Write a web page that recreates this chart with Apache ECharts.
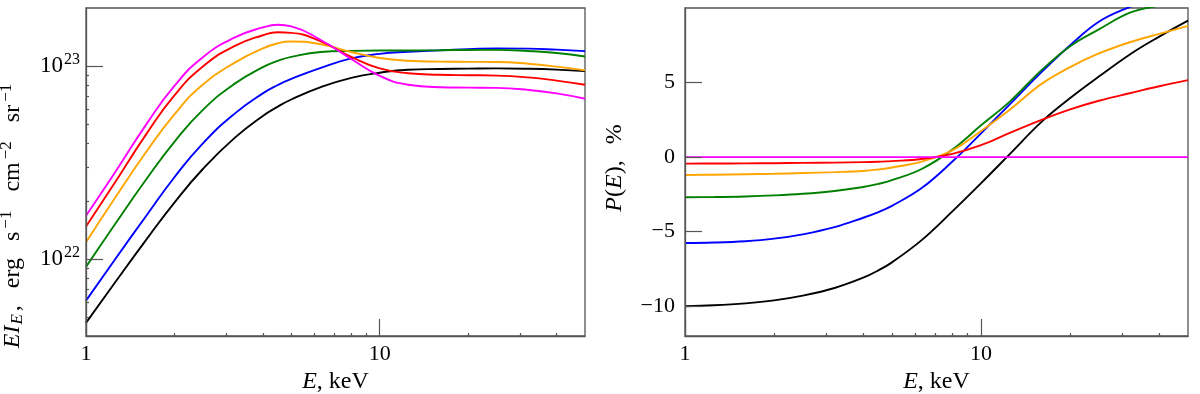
<!DOCTYPE html>
<html>
<head>
<meta charset="utf-8">
<script src="https://cdn.jsdelivr.net/npm/echarts@6/dist/echarts.min.js"></script>
<style>
  html, body { margin: 0; padding: 0; background: #fff; }
  #chart { width: 1200px; height: 394px; }
</style>
</head>
<body>
<div id="chart"></div>
<script>
// photon energy, keV
const energy = [1, 1.25, 1.6, 2, 2.5, 3.2, 4, 4.5, 5, 6.3, 8, 10, 12.5, 16, 20, 25, 32, 40, 50];

// left panel: E I_E, erg s^-1 cm^-2 sr^-1
const intensityBlack = [4.68e21, 7.5e21, 1.256e22, 1.965e22, 2.932e22, 4.236e22, 5.519e22, 6.166e22, 6.716e22, 7.786e22, 8.69e22, 9.245e22, 9.58e22, 9.66e22, 9.7e22, 9.73e22, 9.69e22, 9.59e22, 9.42e22];
const intensityBlue = [6.1e21, 9.88e21, 1.669e22, 2.656e22, 3.982e22, 5.658e22, 7.224e22, 7.985e22, 8.587e22, 9.79e22, 1.096e23, 1.157e23, 1.186e23, 1.207e23, 1.223e23, 1.235e23, 1.232e23, 1.217e23, 1.196e23];
const intensityGreen = [9.12e21, 1.503e22, 2.578e22, 4.055e22, 5.934e22, 8.09e22, 9.87e22, 1.065e23, 1.117e23, 1.183e23, 1.2e23, 1.204e23, 1.204e23, 1.209e23, 1.213e23, 1.214e23, 1.198e23, 1.17e23, 1.122e23];
const intensityOrange = [1.225e22, 2.056e22, 3.577e22, 5.624e22, 8.04e22, 1.039e23, 1.235e23, 1.314e23, 1.342e23, 1.298e23, 1.184e23, 1.102e23, 1.066e23, 1.055e23, 1.052e23, 1.05e23, 1.029e23, 9.94e22, 9.5e22];
const intensityRed = [1.476e22, 2.473e22, 4.417e22, 7.053e22, 9.96e22, 1.268e23, 1.445e23, 1.497e23, 1.487e23, 1.342e23, 1.116e23, 9.73e22, 9.19e22, 9.026e22, 8.973e22, 8.932e22, 8.74e22, 8.414e22, 8.01e22];
const intensityMagenta = [1.679e22, 2.785e22, 4.963e22, 7.899e22, 1.113e23, 1.404e23, 1.586e23, 1.637e23, 1.606e23, 1.366e23, 1.089e23, 8.9e22, 8.01e22, 7.777e22, 7.741e22, 7.713e22, 7.53e22, 7.224e22, 6.78e22];

// right panel: P(E), %
const polBlack = [-10.0, -9.94, -9.81, -9.61, -9.29, -8.78, -8.09, -7.60, -7.06, -5.57, -3.64, -1.75, 0.20, 2.36, 3.96, 5.40, 6.92, 8.08, 9.15];
const polBlue = [-5.76, -5.73, -5.64, -5.47, -5.18, -4.70, -4.07, -3.69, -3.27, -2.08, -0.30, 1.59, 3.54, 5.70, 7.50, 9.08, 10.09, 10.80, 11.38];
const polGreen = [-2.69, -2.68, -2.64, -2.57, -2.46, -2.27, -2.01, -1.80, -1.55, -0.80, 0.50, 2.13, 3.72, 5.83, 7.44, 8.57, 9.70, 10.17, 10.6];
const polOrange = [-1.20, -1.18, -1.15, -1.12, -1.07, -1.01, -0.93, -0.83, -0.70, -0.30, 0.45, 1.75, 3.18, 4.91, 6.04, 6.95, 7.72, 8.26, 8.80];
const polRed = [-0.44, -0.43, -0.42, -0.41, -0.39, -0.37, -0.34, -0.31, -0.27, -0.13, 0.22, 0.80, 1.62, 2.50, 3.20, 3.78, 4.30, 4.75, 5.16];
const polMagenta = [0, 0, 0, 0, 0, 0, 0, 0, 0, 0, 0, 0, 0, 0, 0, 0, 0, 0, 0];

// ticks
const xMajor = [1, 10];
const xMinor = [2, 3, 4, 5, 6, 7, 8, 9, 20, 30, 40];
const yLogMajor = [1e22, 1e23];
const yLogMinor = [5e21, 6e21, 7e21, 8e21, 9e21, 2e22, 3e22, 4e22, 5e22, 6e22, 7e22, 8e22, 9e22];
const yPolTicks = [-10, -5, 0, 5];

const colors = ['#000000', '#0000ff', '#008000', '#ffa500', '#ff0000', '#ff00ff'];
const intensity = [intensityBlack, intensityBlue, intensityGreen, intensityOrange, intensityRed, intensityMagenta];
const polarization = [polBlack, polBlue, polGreen, polOrange, polRed, polMagenta];

const FONT = 'Liberation Serif';
const AXIS_COLOR = '#555';

// tick labels
const tickRich = {
  n: { fontFamily: FONT, fontSize: 23, color: '#000' },
  sp: { fontFamily: FONT, fontSize: 16, color: '#000', padding: [0, 0, 12, 1] }
};
// axis titles
const nameRich = {
  n: { fontFamily: FONT, fontSize: 24, color: '#000' },
  w: { fontFamily: FONT, fontSize: 24, color: '#000', padding: [0, 0, 0, 17] },
  p: { fontFamily: FONT, fontSize: 24, color: '#000', padding: [0, 0, 0, 16] },
  i: { fontFamily: FONT, fontSize: 24, fontStyle: 'italic', color: '#000' },
  sp: { fontFamily: FONT, fontSize: 17, color: '#000', padding: [0, 2, 13, 3] },
  sb: { fontFamily: FONT, fontSize: 17, fontStyle: 'italic', color: '#000', padding: [10, 3, 0, 1] }
};

function pairs(ys) {
  return energy.map((e, k) => [e, ys[k]]);
}

function xAxes(grid) {
  return [
    {
      type: 'log', gridIndex: grid, min: 1, max: 50, position: 'bottom', z: 5,
      axisLine: { show: true, onZero: false, lineStyle: { color: AXIS_COLOR, width: 1.3 } },
      axisTick: { inside: true, length: 17, customValues: xMajor, lineStyle: { color: AXIS_COLOR, width: 1.2 } },
      axisLabel: { customValues: xMajor, margin: 7, fontFamily: FONT, fontSize: 22, color: '#000' },
      splitLine: { show: false },
      name: '{i|E}{n|, keV}', nameLocation: 'middle', nameGap: 23,
      nameTextStyle: { rich: nameRich }
    },
    {
      type: 'log', gridIndex: grid, min: 1, max: 50, position: 'bottom', z: 5,
      axisLine: { show: false, onZero: false },
      axisTick: { inside: true, length: 3, customValues: xMinor, lineStyle: { color: AXIS_COLOR, width: 1.2 } },
      axisLabel: { show: false },
      splitLine: { show: false }
    }
  ];
}

const chart = echarts.init(document.getElementById('chart'));

const series = [];
colors.forEach((c, k) => {
  series.push({
    type: 'line', xAxisIndex: 0, yAxisIndex: 0, data: pairs(intensity[k]),
    smooth: 0.5, showSymbol: false, lineStyle: { color: c, width: 1.9 }, z: 2
  });
  series.push({
    type: 'line', xAxisIndex: 2, yAxisIndex: 2, data: pairs(polarization[k]),
    smooth: 0.4, showSymbol: false, lineStyle: { color: c, width: 1.9 }, z: 2
  });
});

chart.setOption({
  animation: false,
  backgroundColor: '#fff',
  grid: [
    { left: 86, top: 8, width: 499, height: 328, show: true, borderColor: AXIS_COLOR, borderWidth: 1.3, outerBoundsMode: 'none' },
    { left: 685, top: 8, width: 503, height: 328, show: true, borderColor: AXIS_COLOR, borderWidth: 1.3, outerBoundsMode: 'none' }
  ],
  xAxis: xAxes(0).concat(xAxes(1)),
  yAxis: [
    {
      type: 'log', gridIndex: 0, min: 4e21, max: 2e23, position: 'left', z: 5,
      axisLine: { show: true, lineStyle: { color: AXIS_COLOR, width: 1.3 } },
      axisTick: { inside: true, length: 17, customValues: yLogMajor, lineStyle: { color: AXIS_COLOR, width: 1.2 } },
      axisLabel: {
        customValues: yLogMajor, margin: 6,
        formatter: v => '{n|10}{sp|' + Math.round(Math.log10(v)) + '}',
        rich: tickRich
      },
      splitLine: { show: false },
      name: '{i|EI}{sb|E}{n|,}{w|erg}{w|s}{sp|−1}{w|cm}{sp|−2}{w|sr}{sp|−1}',
      nameLocation: 'middle', nameRotate: 90, nameGap: 58,
      nameTextStyle: { rich: nameRich, padding: [0, 86, 0, 0] }
    },
    {
      type: 'log', gridIndex: 0, min: 4e21, max: 2e23, position: 'left', z: 5,
      axisLine: { show: false },
      axisTick: { inside: true, length: 3, customValues: yLogMinor, lineStyle: { color: AXIS_COLOR, width: 1.2 } },
      axisLabel: { show: false },
      splitLine: { show: false }
    },
    {
      type: 'value', gridIndex: 1, min: -12, max: 10, position: 'left', z: 5,
      axisLine: { show: true, lineStyle: { color: AXIS_COLOR, width: 1.3 } },
      axisTick: { inside: true, length: 17, customValues: yPolTicks, lineStyle: { color: AXIS_COLOR, width: 1.2 } },
      axisLabel: {
        customValues: yPolTicks, margin: 10, fontFamily: FONT, fontSize: 22, color: '#000',
        formatter: v => (v < 0 ? '\u2212' + Math.abs(v) : String(v))
      },
      splitLine: { show: false },
      name: '{i|P}{n|(}{i|E}{n|),}{p|%}',
      nameLocation: 'middle', nameRotate: 90, nameGap: 58,
      nameTextStyle: { rich: nameRich, padding: [0, 0, 0, 8] }
    }
  ],
  series: series
});
</script>
</body>
</html>
